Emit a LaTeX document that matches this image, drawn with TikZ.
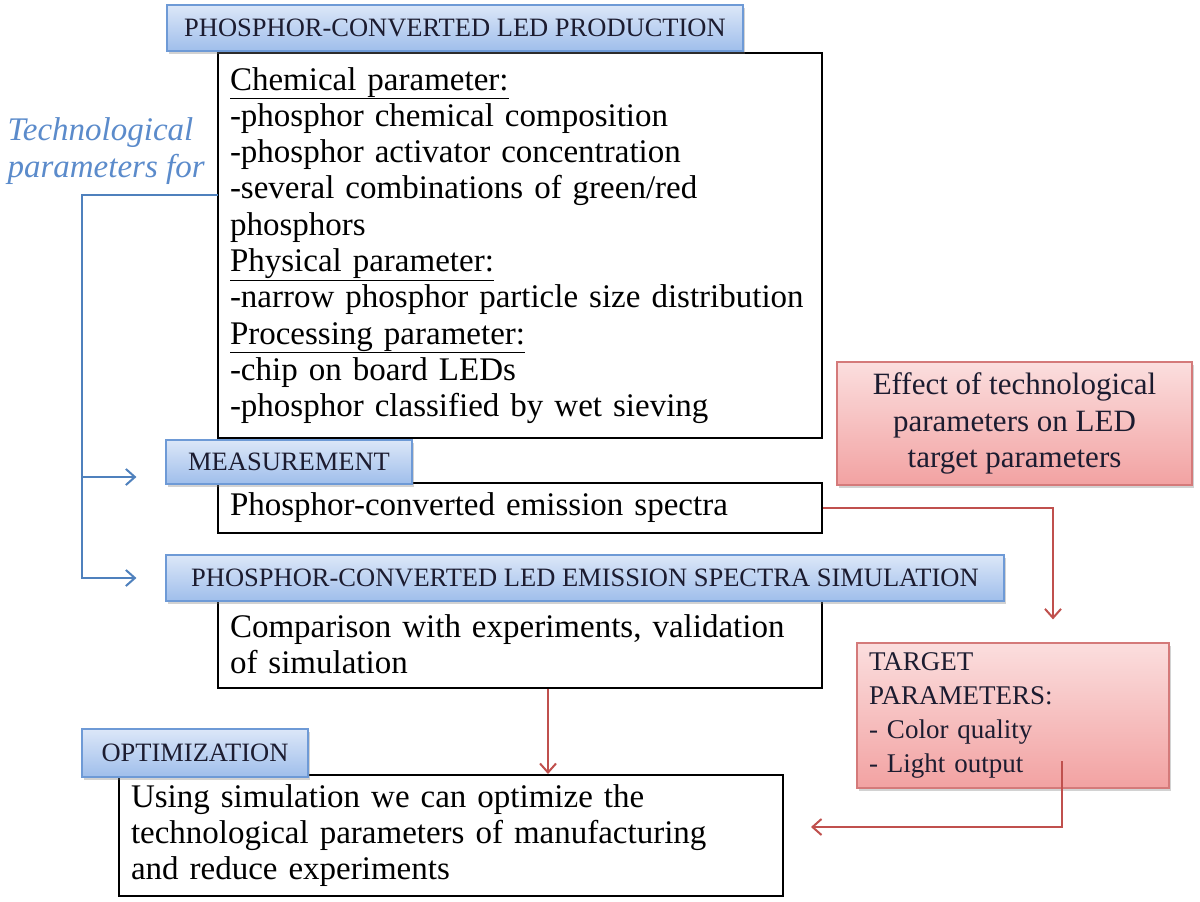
\documentclass[tikz,border=0pt]{standalone}
\usepackage{fontspec}
\setmainfont{Liberation Serif}
\usetikzlibrary{arrows.meta,shadows}
\definecolor{hdrtop}{HTML}{DCE7F8}
\definecolor{hdrbot}{HTML}{9FBEEB}
\definecolor{hdrline}{HTML}{6E9AD6}
\definecolor{redtop}{HTML}{FBDEDE}
\definecolor{redbot}{HTML}{F2A2A2}
\definecolor{redline}{HTML}{D47A7A}
\definecolor{arrred}{HTML}{C0504D}
\definecolor{arrblue}{HTML}{4F81BD}
\definecolor{techblue}{HTML}{5B8BCB}
\definecolor{hdrtext}{HTML}{1C1C30}
\newcommand\bodyfont{\fontsize{33}{36.3}\selectfont}
\newcommand\hdrfont{\fontsize{26.5}{30}\selectfont}
\newcommand\tgfont{\fontsize{27}{34}\selectfont}
\newcommand\efffont{\fontsize{31}{36.5}\selectfont}
\tikzset{
  hdr/.style={draw=hdrline, line width=1.2pt, top color=hdrtop, bottom color=hdrbot,
    inner sep=0pt, font=\hdrfont, text=hdrtext,
    drop shadow={opacity=0.35, shadow xshift=1.5pt, shadow yshift=-2.5pt}},
  txtbox/.style={draw=black, line width=2pt, fill=white, inner xsep=12pt, inner ysep=0pt,
    font=\bodyfont, align=left, text=black},
  redbox/.style={draw=redline, line width=1.2pt, top color=redtop, bottom color=redbot,
    inner sep=0pt, text=hdrtext,
    drop shadow={opacity=0.35, shadow xshift=1.5pt, shadow yshift=-2.5pt}},
  bline/.style={draw=arrblue, line width=2pt},
  rline/.style={draw=arrred, line width=2pt},
  tip/.style={-{Straight Barb[length=9pt,width=16pt,line width=2pt]}}
}
\begin{document}
\begin{tikzpicture}[x=1pt,y=-1pt]
\useasboundingbox[fill=white] (0,0) rectangle (1200,902);

% text boxes
\node[txtbox, text width=580pt, minimum width=604pt, minimum height=385pt] (b1) at (520,245.5)
 {\underline{Chemical parameter:}\\
  -phosphor chemical composition\\
  -phosphor activator concentration\\
  -several combinations of green/red\\
  phosphors\\
  \underline{Physical parameter:}\\
  -narrow phosphor particle size distribution\\
  \underline{Processing parameter:}\\
  -chip on board LEDs\\
  -phosphor classified by wet sieving};
\node[txtbox, text width=580pt, minimum width=604pt, minimum height=50pt] (b2) at (520,508)
 {Phosphor-converted emission spectra};
\node[txtbox, text width=580pt, minimum width=604pt, minimum height=87pt] (b3) at (520,644.5)
 {Comparison with experiments, validation\\of simulation};
\node[txtbox, text width=640pt, minimum width=664pt, minimum height=121pt] (b4) at (451,835.5)
 {Using simulation we can optimize the\\technological parameters of manufacturing\\and reduce experiments};

% headers
\node[hdr, minimum width=576pt, minimum height=46pt] (h1) at (455,28) {PHOSPHOR-CONVERTED LED PRODUCTION};
\node[hdr, minimum width=246pt, minimum height=44pt] (h2) at (289,462) {MEASUREMENT};
\node[hdr, minimum width=838pt, minimum height=46pt] (h3) at (585,578) {PHOSPHOR-CONVERTED LED EMISSION SPECTRA SIMULATION};
\node[hdr, minimum width=226pt, minimum height=48pt] (h4) at (195,753) {OPTIMIZATION};

% red boxes
\node[redbox, minimum width=355pt, minimum height=123pt, align=center, font=\efffont] (eff) at (1014.5,423.5)
 {Effect of technological\\parameters on LED\\target parameters};
\node[redbox, minimum width=312pt, minimum height=145pt, text width=288pt, align=left, font=\tgfont] (tg) at (1013,715.5)
 {TARGET\\PARAMETERS:\\- Color quality\\- Light output};

% side text
\node[anchor=west, align=left, text=techblue, font=\bodyfont\itshape] (tech) at (4,151)
 {Technological\\parameters for};

% blue connectors
\coordinate (tp) at (218,195);
\coordinate (jn) at (82,195);
\draw[bline, tip, shorten >=29pt] (tp) -- (jn) |- ([yshift=-15pt]h2.west);
\draw[bline, tip, shorten >=29pt] (jn) |- (h3.west);

% red connectors
\draw[rline, tip, shorten >=23pt] (b2.east) -| ([xshift=40pt]tg.north);
\draw[rline, tip] ([xshift=28pt]b3.south) -- ([xshift=28pt]b3.south |- b4.north);
\draw[rline, tip, shorten >=27pt] ([xshift=49pt,yshift=-45.5pt]tg.center) |- ([yshift=8.5pt]b4.east);
\end{tikzpicture}
\end{document}
